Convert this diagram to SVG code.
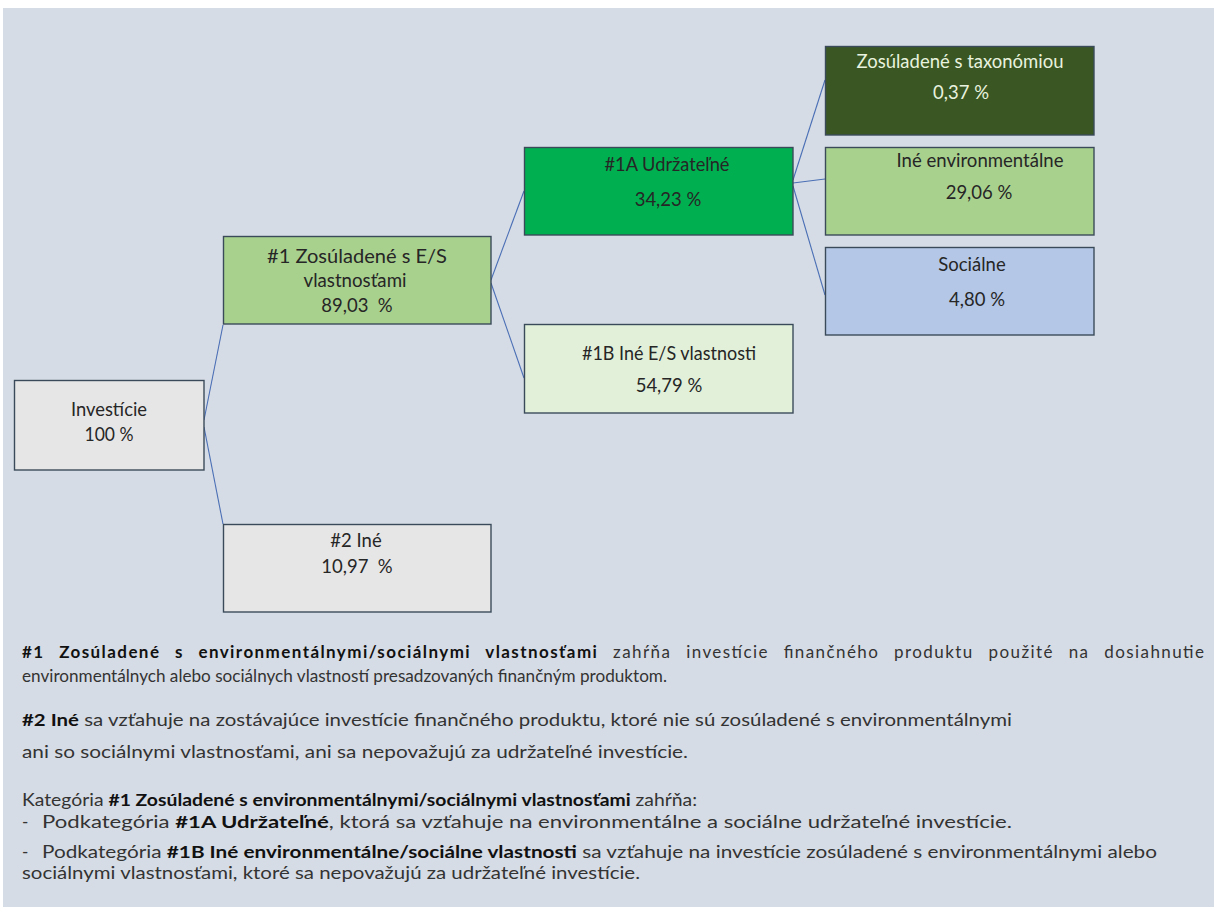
<svg xmlns="http://www.w3.org/2000/svg" width="1220" height="907" viewBox="0 0 1220 907">
<style>
.box{stroke:#3B4A5A;stroke-width:1.4}
.lbl{font-family:Lato,"Liberation Sans",sans-serif;font-size:18.5px;fill:#262626;text-anchor:middle}
.lite{fill:#E8F2DF}
.con{stroke:#4A6FB5;stroke-width:1.1;fill:none}
.p{font-family:Lato,"Liberation Sans",sans-serif;font-size:17px;fill:#333333}
.b{font-weight:bold;fill:#111111}
</style>
<rect x="0" y="0" width="1220" height="907" fill="#FFFFFF"/>
<rect x="3" y="8" width="1211" height="899" fill="#D6DCE5"/>
<g id="connectors">
<line class="con" x1="204" y1="420" x2="223" y2="325"/>
<line class="con" x1="204" y1="427" x2="223" y2="524"/>
<line class="con" x1="491" y1="280" x2="524" y2="191"/>
<line class="con" x1="491" y1="283" x2="524" y2="378"/>
<line class="con" x1="793" y1="180" x2="825" y2="80"/>
<line class="con" x1="793" y1="183" x2="825" y2="179"/>
<line class="con" x1="793" y1="186" x2="825" y2="295"/>
</g>
<g id="investicie">
<rect class="box" x="14.5" y="380.5" width="189.5" height="89.5" fill="#E7E6E6"/>
<text class="lbl" x="109" y="416" textLength="76" lengthAdjust="spacingAndGlyphs">Investície</text>
<text class="lbl" x="109" y="441" textLength="49" lengthAdjust="spacingAndGlyphs">100 %</text>
</g>
<g id="n1">
<rect class="box" x="223.5" y="236.5" width="267.5" height="87.5" fill="#A9D18E"/>
<text class="lbl" x="357" y="263" textLength="180" lengthAdjust="spacingAndGlyphs">#1 Zosúladené s E/S</text>
<text class="lbl" x="355" y="287" textLength="103" lengthAdjust="spacingAndGlyphs">vlastnosťami</text>
<text class="lbl" x="357" y="312" xml:space="preserve">89,03  %</text>
</g>
<g id="n2">
<rect class="box" x="223.5" y="524.5" width="267.5" height="87.5" fill="#E7E6E6"/>
<text class="lbl" x="356" y="547">#2 Iné</text>
<text class="lbl" x="357" y="573" xml:space="preserve">10,97  %</text>
</g>
<g id="n1a">
<rect class="box" x="524.5" y="147.5" width="268.5" height="87.5" fill="#00B050"/>
<text class="lbl" x="667" y="171" textLength="125" lengthAdjust="spacingAndGlyphs">#1A Udržateľné</text>
<text class="lbl" x="668" y="206">34,23 %</text>
</g>
<g id="n1b">
<rect class="box" x="524.5" y="324.5" width="268.5" height="88.5" fill="#E2F0D9"/>
<text class="lbl" x="669" y="360" textLength="174" lengthAdjust="spacingAndGlyphs">#1B Iné E/S vlastnosti</text>
<text class="lbl" x="669" y="392">54,79 %</text>
</g>
<g id="taxonomy">
<rect class="box" x="825.5" y="46.5" width="268.5" height="88.5" fill="#3A5723"/>
<text class="lbl lite" x="960" y="68" textLength="207" lengthAdjust="spacingAndGlyphs">Zosúladené s taxonómiou</text>
<text class="lbl lite" x="961" y="99">0,37 %</text>
</g>
<g id="ine-env">
<rect class="box" x="825.5" y="147.5" width="268.5" height="87.5" fill="#A9D18E"/>
<text class="lbl" x="980" y="167" textLength="167" lengthAdjust="spacingAndGlyphs">Iné environmentálne</text>
<text class="lbl" x="979" y="199">29,06 %</text>
</g>
<g id="socialne">
<rect class="box" x="825.5" y="247.5" width="268.5" height="87.5" fill="#B4C7E7"/>
<text class="lbl" x="972" y="271">Sociálne</text>
<text class="lbl" x="977" y="306">4,80 %</text>
</g>
<g id="legend">
<text class="p" x="22" y="658" word-spacing="9" textLength="1182" lengthAdjust="spacing"><tspan class="b">#1 Zosúladené s environmentálnymi/sociálnymi vlastnosťami</tspan> zahŕňa investície finančného produktu použité na dosiahnutie</text>
<text class="p" x="22" y="682" textLength="645" lengthAdjust="spacingAndGlyphs">environmentálnych alebo sociálnych vlastností presadzovaných finančným produktom.</text>
<text class="p" x="22" y="726" textLength="990" lengthAdjust="spacingAndGlyphs"><tspan class="b">#2 Iné</tspan> sa vzťahuje na zostávajúce investície finančného produktu, ktoré nie sú zosúladené s environmentálnymi</text>
<text class="p" x="22" y="758" textLength="666" lengthAdjust="spacingAndGlyphs">ani so sociálnymi vlastnosťami, ani sa nepovažujú za udržateľné investície.</text>
<text class="p" x="22" y="806" textLength="675" lengthAdjust="spacingAndGlyphs">Kategória <tspan class="b">#1 Zosúladené s environmentálnymi/sociálnymi vlastnosťami</tspan> zahŕňa:</text>
<text class="p" x="22" y="828">-</text>
<text class="p" x="42" y="828" textLength="970" lengthAdjust="spacingAndGlyphs">Podkategória <tspan class="b">#1A Udržateľné</tspan>, ktorá sa vzťahuje na environmentálne a sociálne udržateľné investície.</text>
<text class="p" x="22" y="858">-</text>
<text class="p" x="42" y="858" textLength="1115" lengthAdjust="spacingAndGlyphs">Podkategória <tspan class="b">#1B Iné environmentálne/sociálne vlastnosti</tspan> sa vzťahuje na investície zosúladené s environmentálnymi alebo</text>
<text class="p" x="22" y="879" textLength="618" lengthAdjust="spacingAndGlyphs">sociálnymi vlastnosťami, ktoré sa nepovažujú za udržateľné investície.</text>
</g>
</svg>
